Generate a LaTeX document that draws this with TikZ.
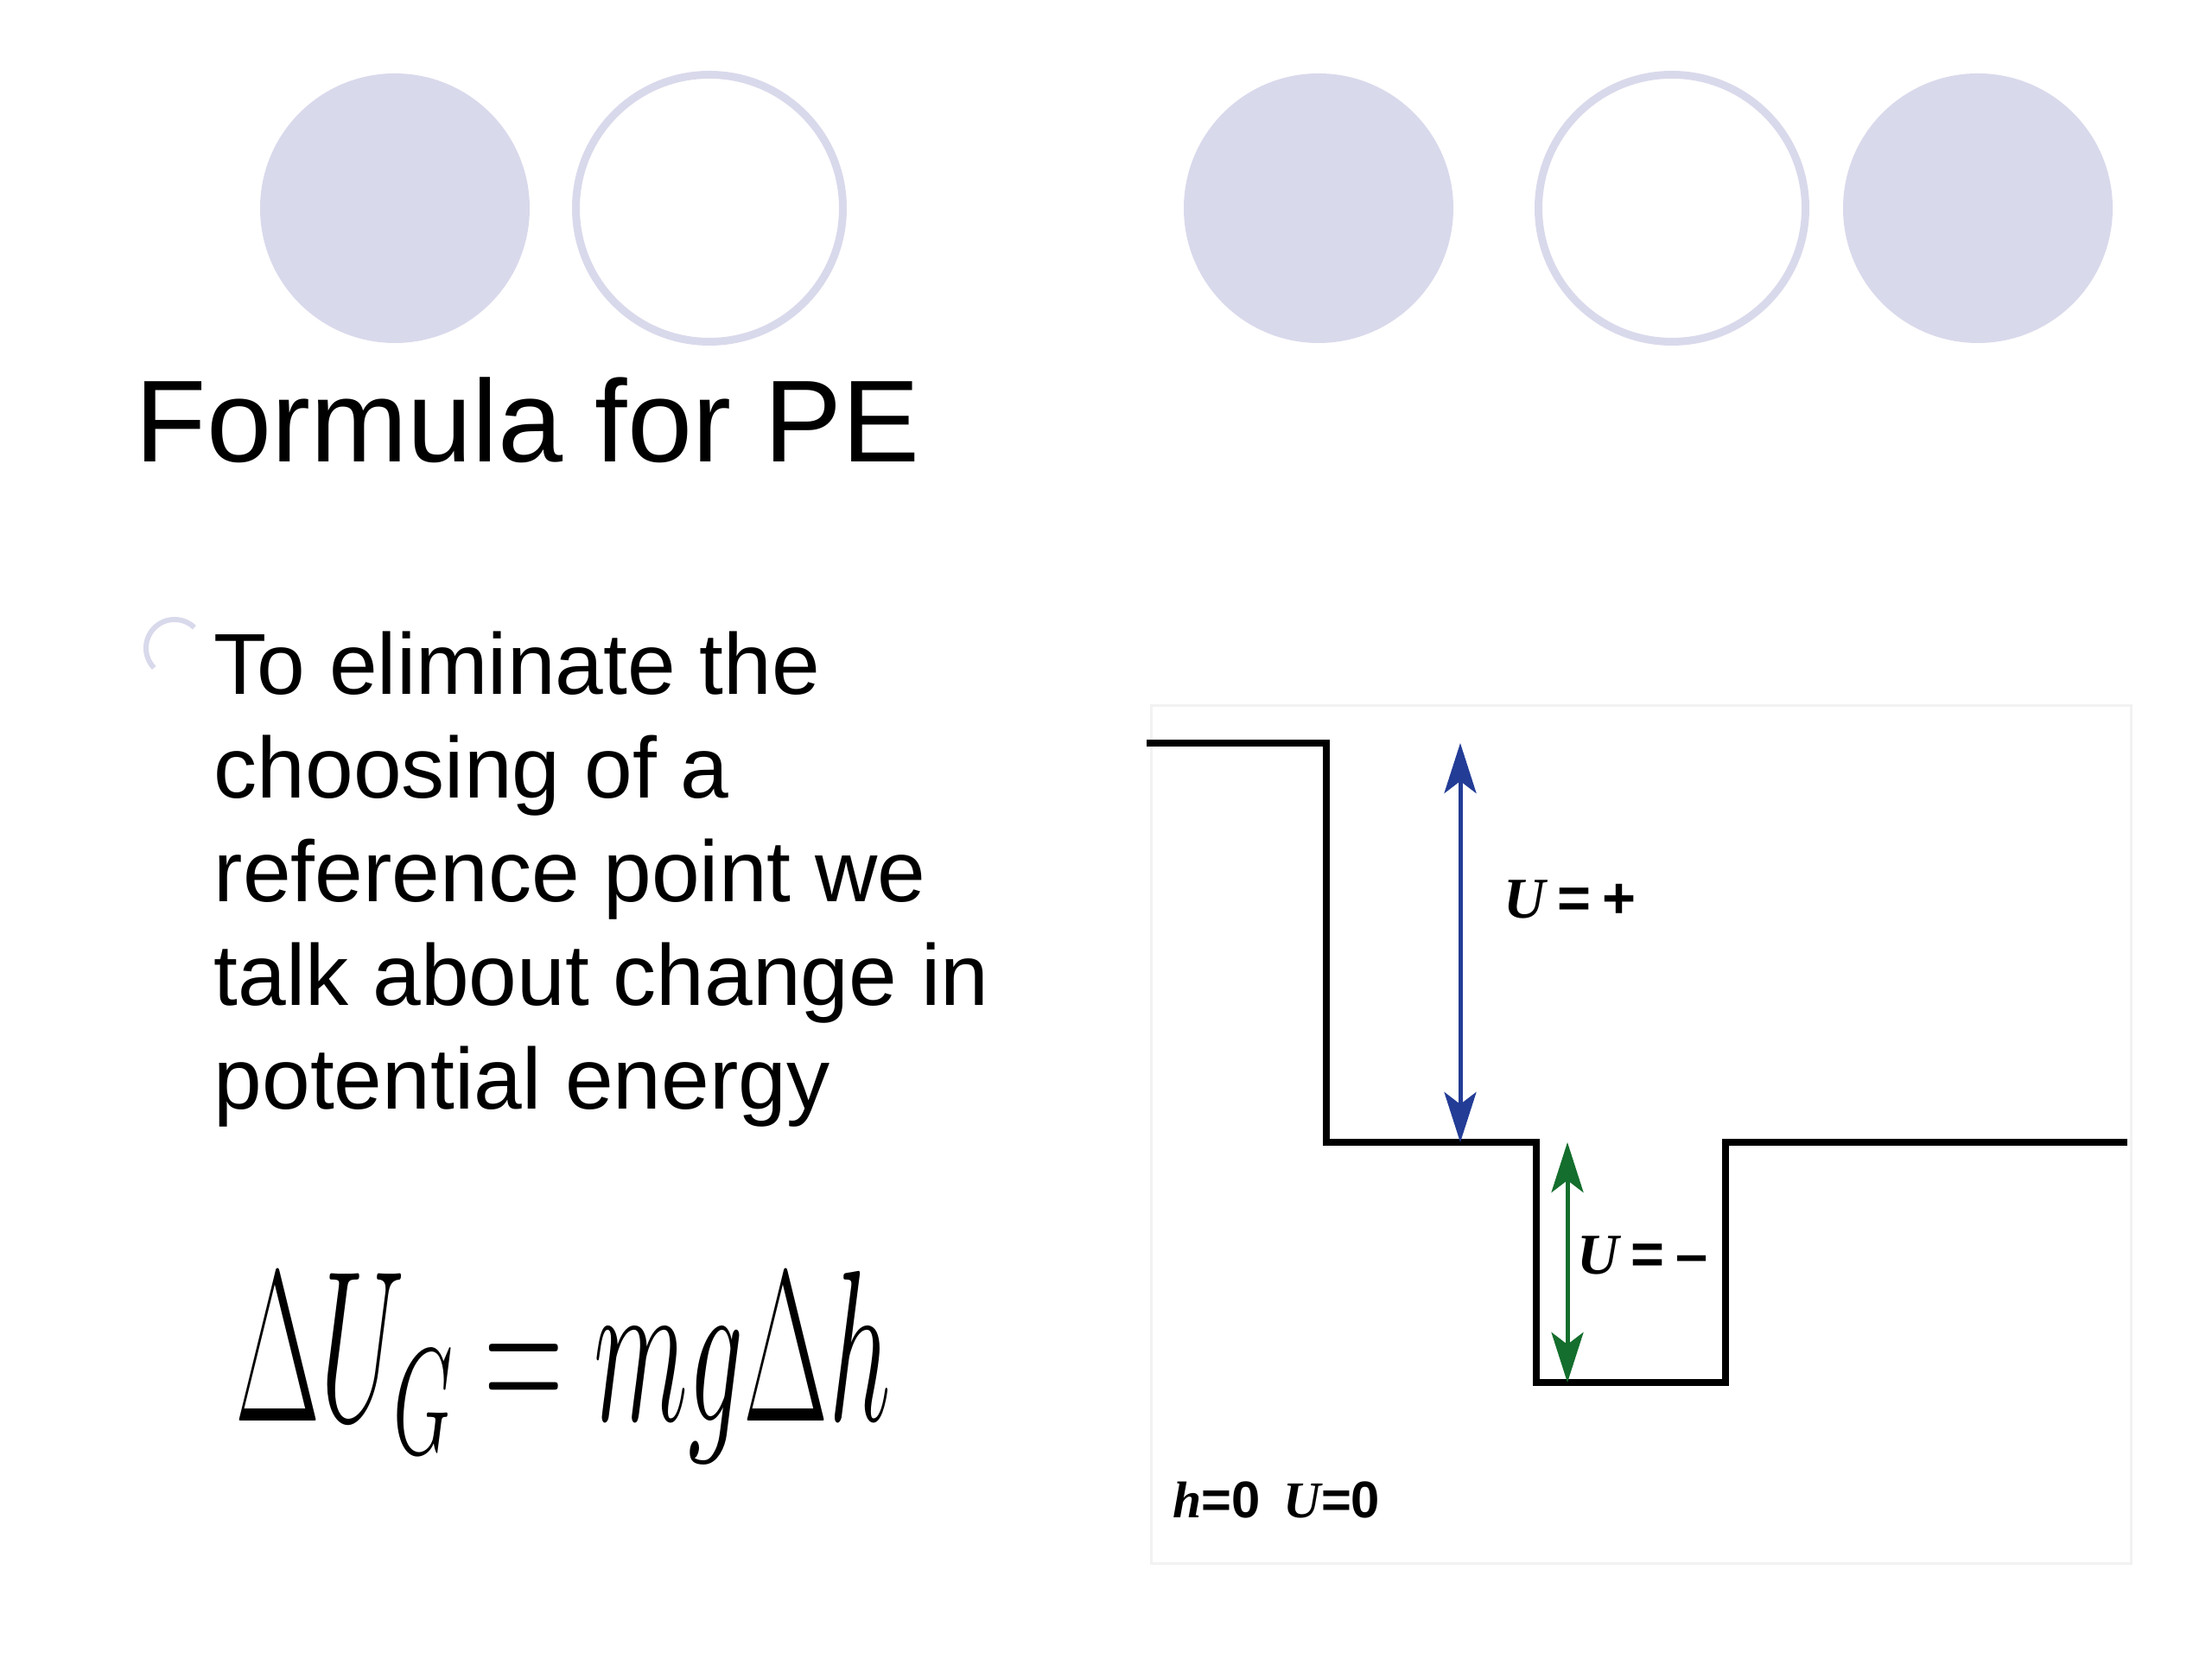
\RequirePackage{fix-cm}
\documentclass[tikz,border=0pt]{standalone}
\usepackage{fontspec}
\setsansfont{Liberation Sans}
\newfontfamily\labelserif{Liberation Serif}
\usetikzlibrary{arrows.meta}
\definecolor{lavender}{RGB}{217,217,236}
\definecolor{ublue}{RGB}{35,60,150}
\definecolor{ugreen}{RGB}{20,110,45}

\begin{document}
\begin{tikzpicture}
    \tikzset{disc/.style = {fill=lavender}}
    \tikzset{ring/.style = {draw=lavender, line width=0.9mm}}
    \tikzset{title/.style = {anchor=base west, inner sep=0pt, font=\sffamily\fontsize{38.4}{46}\selectfont}}
    \tikzset{body/.style = {anchor=base west, inner sep=0pt, font=\sffamily\fontsize{28.5}{34}\selectfont}}
    \tikzset{profile/.style = {line width=0.75mm, line join=miter}}
    \tikzset{uarrow/.style = {{Stealth[length=5.8mm,width=3.7mm,inset=1.4mm]}-{Stealth[length=5.8mm,width=3.7mm,inset=1.4mm]}, line width=0.5mm}}
    \tikzset{ulabel/.style = {anchor=base west, inner sep=0pt, font=\fontsize{19}{23}\selectfont}}
    \tikzset{zlabel/.style = {anchor=base west, inner sep=0pt, font=\fontsize{17}{20}\selectfont}}
    \useasboundingbox[fill=white] (0,0) rectangle (25.6,19.2);
    % circles
    \fill[disc] (4.57,16.79) circle (1.56);
    \draw[ring] (8.21,16.79) circle (1.545);
    \fill[disc] (15.26,16.79) circle (1.56);
    \draw[ring] (19.35,16.79) circle (1.545);
    \fill[disc] (22.89,16.79) circle (1.56);
    % text
    \node[title] (title) at (1.56,13.85) {Formula for PE};
    \draw[lavender, line width=0.6mm] (2.02,11.70) ++(46:0.33) arc[start angle=46, end angle=224, radius=0.33];
    \node[body] (line1) at (2.47,11.16) {To eliminate the};
    \node[body] (line2) at (2.47,9.96) {choosing of a};
    \node[body] (line3) at (2.47,8.76) {reference point we};
    \node[body] (line4) at (2.47,7.56) {talk about change in};
    \node[body] (line5) at (2.47,6.36) {potential energy};
    \node[anchor=base west, inner sep=0pt, font=\fontsize{71}{80}\selectfont] (formula) at (2.72,2.75)
        {\scalebox{0.51}[1]{$\Delta U_G = mg\Delta h$}};
    % levels
    \draw[gray!10, line width=0.3mm] (13.32,1.10) rectangle (24.66,11.03);
    \coordinate (a) at (13.27,10.60);
    \coordinate (b) at (15.35,10.60);
    \coordinate (c) at (15.35,5.98);
    \coordinate (d) at (17.78,5.98);
    \coordinate (e) at (17.78,3.20);
    \coordinate (f) at (19.97,3.20);
    \coordinate (g) at (19.97,5.98);
    \coordinate (h) at (24.62,5.98);
    \draw[profile] (a) -- (b) -- (c) -- (d) -- (e) -- (f) -- (g) -- (h);
    % arrows
    \coordinate (ptop) at (16.90,10.60);
    \coordinate (pbot) at (16.90,5.98);
    \coordinate (mtop) at (18.14,5.98);
    \coordinate (mbot) at (18.14,3.20);
    \draw[uarrow, ublue] (ptop) -- (pbot);
    \draw[uarrow, ugreen] (mtop) -- (mbot);
    \node[ulabel] (uplus) at (17.40,8.57) {{\labelserif\bfseries\itshape U}\hspace{0.2em}{\sffamily\bfseries =\hspace{0.2em}+}};
    \node[ulabel] (uminus) at (18.25,4.45) {{\labelserif\bfseries\itshape U}\hspace{0.2em}{\sffamily\bfseries =\hspace{0.2em}--}};
    \node[zlabel] (zero) at (13.57,1.63) {{\labelserif\bfseries\itshape h}{\sffamily\bfseries =0}\hspace{0.45em}{\labelserif\bfseries\itshape U}{\sffamily\bfseries =0}};
\end{tikzpicture}
\end{document}
